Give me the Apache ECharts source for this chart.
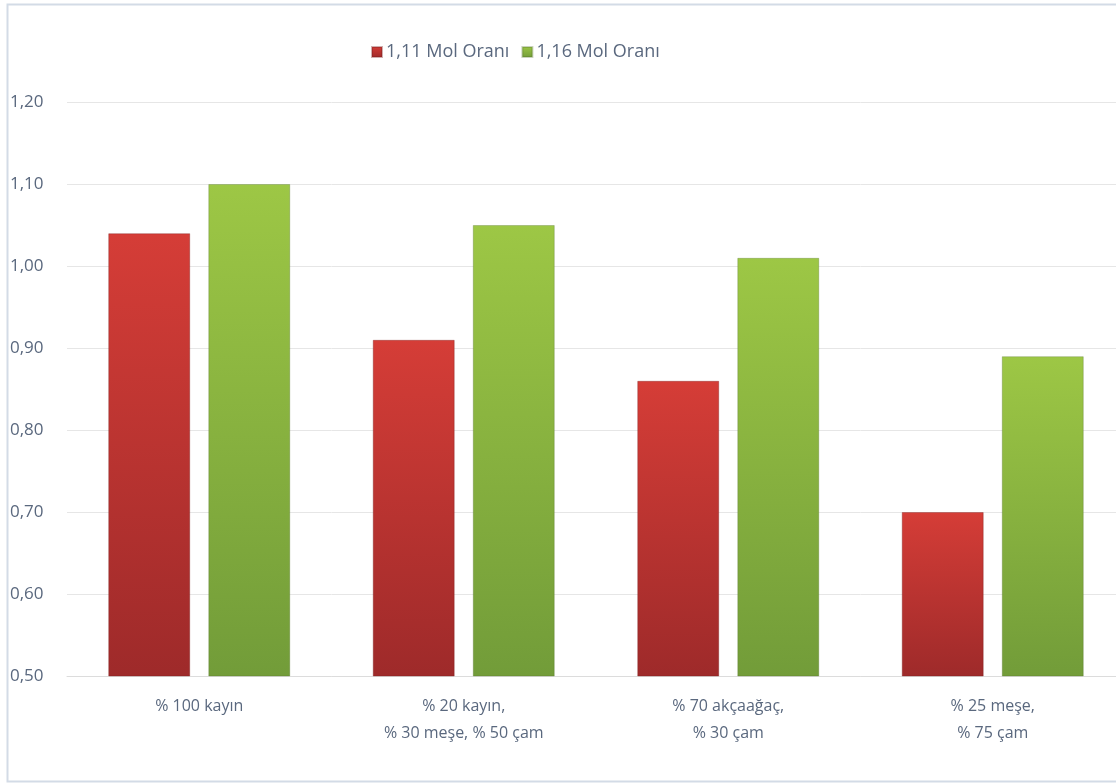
<!DOCTYPE html>
<html>
<head>
<meta charset="utf-8">
<script src="https://cdn.jsdelivr.net/npm/echarts@6/dist/echarts.min.js"></script>
<style>
  html, body { margin: 0; padding: 0; background: #ffffff; overflow: hidden; }
  /* plot area runs slightly past the right edge of the window */
  #chart { width: 1125px; height: 784px; }
</style>
</head>
<body>
<div id="chart"></div>
<script>
// Wood mixtures on the x axis
const categories = [
  '% 100 kayın',
  '% 20 kayın,\n% 30 meşe, % 50 çam',
  '% 70 akçaağaç,\n% 30 çam',
  '% 25 meşe,\n% 75 çam'
];
const seriesNames = ['1,11 Mol Oranı', '1,16 Mol Oranı'];
const mol111 = [1.04, 0.91, 0.86, 0.70];
const mol116 = [1.10, 1.05, 1.01, 0.89];
const yTicks = [0.50, 0.60, 0.70, 0.80, 0.90, 1.00, 1.10, 1.20];

const fmt = v => v.toFixed(2).replace('.', ',');
const textColor = '#5a687e';
const font = '"Open Sans", "Noto Sans", sans-serif';

function grad(top, bottom) {
  return new echarts.graphic.LinearGradient(0, 0, 0, 1, [
    { offset: 0, color: top },
    { offset: 1, color: bottom }
  ]);
}

const chart = echarts.init(document.getElementById('chart'), null, { renderer: 'canvas' });
chart.setOption({
  backgroundColor: '#ffffff',
  animation: false,
  graphic: [{
    type: 'rect',
    left: 5, top: 2,
    shape: { width: 1140, height: 777 },
    style: { fill: 'none', stroke: '#d3dbe6', lineWidth: 2 },
    z: -1
  }],
  legend: {
    top: 38,
    left: 366,
    itemWidth: 10,
    itemHeight: 10,
    itemGap: 12,
    icon: 'rect',
    textStyle: { color: textColor, fontSize: 18, fontFamily: font, padding: [0, 0, 0, -1] },
    data: seriesNames
  },
  grid: { left: 67, right: 0, top: 102, bottom: 108, containLabel: false },
  xAxis: {
    type: 'category',
    data: categories,
    axisLine: { show: true, lineStyle: { color: '#dcdcdc', width: 1 } },
    axisTick: { show: false },
    axisLabel: {
      color: textColor, fontSize: 16, fontFamily: font,
      lineHeight: 27, margin: 17, interval: 0
    }
  },
  yAxis: {
    type: 'value',
    min: yTicks[0],
    max: yTicks[yTicks.length - 1],
    interval: 0.1,
    axisLine: { show: false },
    axisTick: { show: false },
    splitLine: { lineStyle: { color: '#e6e6e6', width: 1 } },
    axisLabel: {
      color: textColor, fontSize: 17, fontFamily: font,
      align: 'left', margin: 57,
      formatter: fmt
    }
  },
  series: [
    {
      name: seriesNames[0],
      type: 'bar',
      data: mol111,
      barWidth: 82,
      barGap: '22%',
      itemStyle: {
        color: grad('#d53d37', '#9e2a2a'),
        borderColor: 'rgba(120,30,30,0.35)',
        borderWidth: 1
      }
    },
    {
      name: seriesNames[1],
      type: 'bar',
      data: mol116,
      barWidth: 82,
      barGap: '22%',
      itemStyle: {
        color: grad('#9dc745', '#729c39'),
        borderColor: 'rgba(80,110,40,0.3)',
        borderWidth: 1
      }
    }
  ]
});
</script>
</body>
</html>
